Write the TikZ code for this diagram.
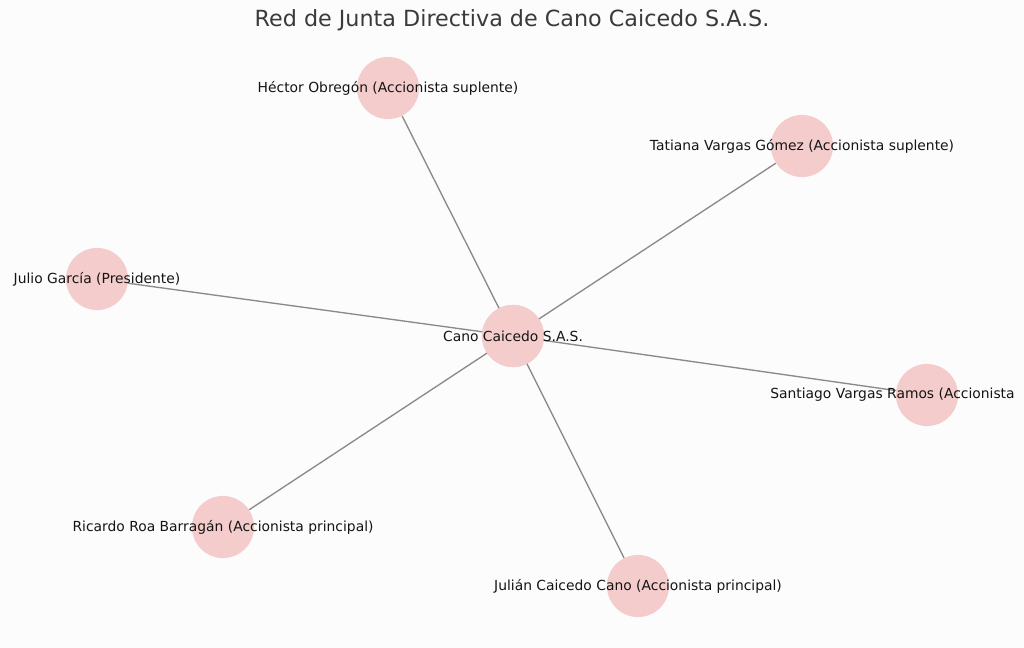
\documentclass[tikz,border=0pt]{standalone}
\usepackage{fontspec}
\setmainfont{DejaVu Sans}
\definecolor{nodepink}{HTML}{F4CCCC}
\definecolor{edgegray}{HTML}{8A8A8A}
\definecolor{titlegray}{HTML}{3A3A3A}
\newcommand*{\rad   }{23.3pt}
\newcommand*{\lblfont}{\fontsize{10.4}{12}\selectfont}
\newcommand*{\ttlfont}{\fontsize{16.7}{19}\selectfont}
\tikzset{
    member/.style={circle, fill=nodepink, draw=none, minimum size=2*\rad, inner sep=0pt},
    tie/.style={draw=edgegray, line width=1pt},
    lbl/.style={text=black!92, font=\lblfont, inner sep=0pt}
}

\begin{document}
\begin{tikzpicture}[x=0.75pt, y=-0.75pt]
    \useasboundingbox (0,0) rectangle (1024,648);
    \fill [white!99!black] (0,0) rectangle (1024,648);
        \node [text=titlegray, font=\ttlfont] (title) at (512,20) {Red de Junta Directiva de Cano Caicedo S.A.S.};
        % centro y miembros
        \node [member] (cano)     at (513,336) {};
        \node [member] (hector)   at (388, 88) {};
        \node [member] (tatiana)  at (802,146) {};
        \node [member] (julio)    at ( 97,279) {};
        \node [member] (santiago) at (927,395) {};
        \node [member] (ricardo)  at (223,527) {};
        \node [member] (julian)   at (638,586) {};
        \draw [tie] (cano.center) -- (hector);
        \draw [tie] (cano.center) -- (tatiana);
        \draw [tie] (cano.center) -- (julio);
        \draw [tie] (cano.center) -- (santiago);
        \draw [tie] (cano.center) -- (ricardo);
        \draw [tie] (cano.center) -- (julian);
        \node [member] at (cano) {};
        % etiquetas
        \node [lbl] (canolbl)     at (cano)     {Cano Caicedo S.A.S.};
        \node [lbl] (hectorlbl)   at (hector)   {Héctor Obregón (Accionista suplente)};
        \node [lbl] (tatianalbl)  at (tatiana)  {Tatiana Vargas Gómez (Accionista suplente)};
        \node [lbl] (juliolbl)    at (julio)    {Julio García (Presidente)};
        \node [lbl, anchor=west] (santiagolbl) at (770,395) {Santiago Vargas Ramos (Accionista};
        \node [lbl] (ricardolbl)  at (ricardo)  {Ricardo Roa Barragán (Accionista principal)};
        \node [lbl] (julianlbl)   at (julian)   {Julián Caicedo Cano (Accionista principal)};
    \end{tikzpicture}
\end{document}
